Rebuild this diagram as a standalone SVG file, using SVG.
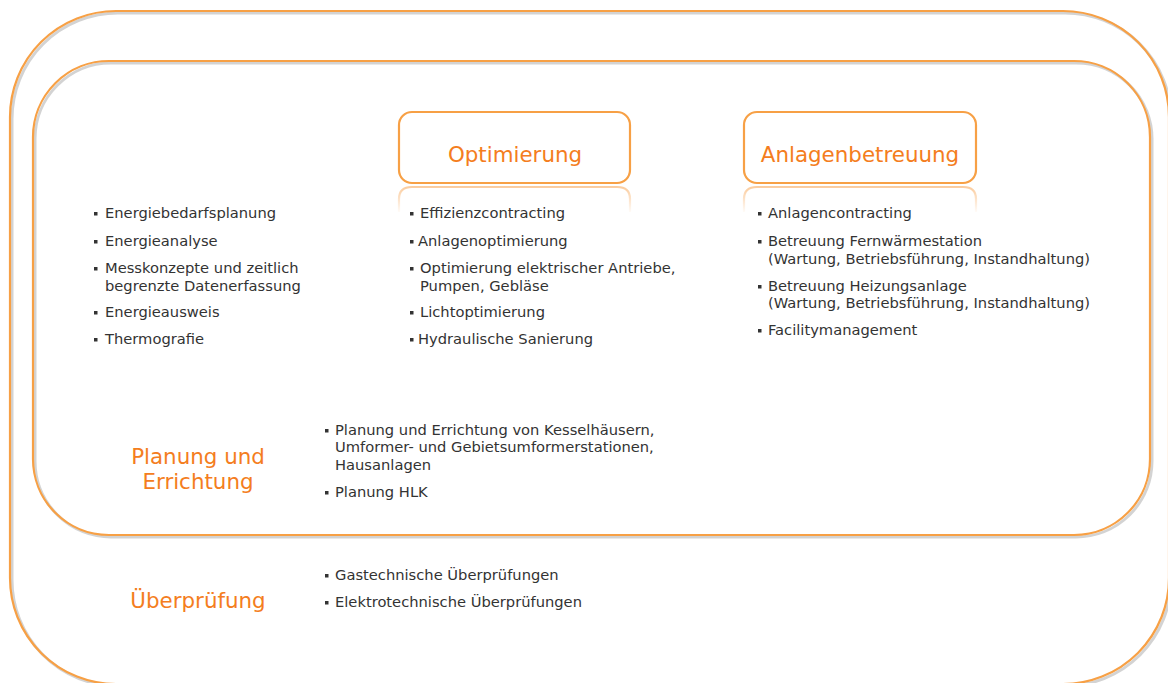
<svg xmlns="http://www.w3.org/2000/svg" width="1168" height="683" viewBox="0 0 1168 683">
<defs>
<linearGradient id="refl" gradientUnits="userSpaceOnUse" x1="0" y1="186" x2="0" y2="214">
<stop offset="0" stop-color="#F7A04A" stop-opacity="0.55"/>
<stop offset="1" stop-color="#F7A04A" stop-opacity="0"/>
</linearGradient>
</defs>
<style>
.shadow{fill:none;stroke:#c8c8c8;stroke-width:3;opacity:0.8}
.frame{fill:none;stroke:#F7A045;stroke-width:2.2}
.box{fill:#fff;stroke:#F7A045;stroke-width:2.2}
.refl{fill:none;stroke:url(#refl);stroke-width:2.2}
.title{font-family:"DejaVu Sans",Verdana,sans-serif;font-size:21.4px;fill:#F47D20}
.item{font-family:"DejaVu Sans",Verdana,sans-serif;font-size:14.7px;fill:#333}
.bul{fill:#333}
</style>
<rect width="1168" height="683" fill="#fff"/>

<g id="outer-frame">
<rect class="shadow" x="12" y="13" width="1159" height="673" rx="106"/>
<rect class="frame" x="10" y="11" width="1159" height="673" rx="106"/>
</g>
<g id="inner-frame">
<rect class="shadow" x="35" y="63" width="1117" height="474" rx="76"/>
<rect class="frame" x="33" y="61" width="1117" height="474" rx="76"/>
</g>

<g id="energieberatung">
<rect class="bul" x="94" y="212" width="3.5" height="3.5"/>
<text class="item" x="105" y="218">Energiebedarfsplanung</text>
<rect class="bul" x="94" y="240" width="3.5" height="3.5"/>
<text class="item" x="105" y="246">Energieanalyse</text>
<rect class="bul" x="94" y="267" width="3.5" height="3.5"/>
<text class="item" x="105" y="273">Messkonzepte und zeitlich</text>
<text class="item" x="105" y="291">begrenzte Datenerfassung</text>
<rect class="bul" x="94" y="311" width="3.5" height="3.5"/>
<text class="item" x="105" y="317">Energieausweis</text>
<rect class="bul" x="94" y="338" width="3.5" height="3.5"/>
<text class="item" x="105" y="344">Thermografie</text>
</g>

<g id="optimierung">
<rect class="box" x="399" y="112" width="231" height="71" rx="13"/>
<path class="refl" d="M399,212 V199 Q399,187 412,187 H617 Q630,187 630,199 V212"/>
<text class="title" x="515" y="162" text-anchor="middle">Optimierung</text>
<rect class="bul" x="410" y="212" width="3.5" height="3.5"/>
<text class="item" x="420" y="218">Effizienzcontracting</text>
<rect class="bul" x="410" y="240" width="3.5" height="3.5"/>
<text class="item" x="418" y="246">Anlagenoptimierung</text>
<rect class="bul" x="410" y="267" width="3.5" height="3.5"/>
<text class="item" x="420" y="273">Optimierung elektrischer Antriebe,</text>
<text class="item" x="420" y="291">Pumpen, Gebläse</text>
<rect class="bul" x="410" y="311" width="3.5" height="3.5"/>
<text class="item" x="420" y="317">Lichtoptimierung</text>
<rect class="bul" x="410" y="338" width="3.5" height="3.5"/>
<text class="item" x="418" y="344">Hydraulische Sanierung</text>
</g>

<g id="anlagenbetreuung">
<rect class="box" x="744" y="112" width="232" height="71" rx="13"/>
<path class="refl" d="M744,212 V199 Q744,187 757,187 H963 Q976,187 976,199 V212"/>
<text class="title" x="860" y="162" text-anchor="middle">Anlagenbetreuung</text>
<rect class="bul" x="758" y="212" width="3.5" height="3.5"/>
<text class="item" x="768" y="218">Anlagencontracting</text>
<rect class="bul" x="758" y="240" width="3.5" height="3.5"/>
<text class="item" x="768" y="246">Betreuung Fernwärmestation</text>
<text class="item" x="768" y="264">(Wartung, Betriebsführung, Instandhaltung)</text>
<rect class="bul" x="758" y="285" width="3.5" height="3.5"/>
<text class="item" x="768" y="291">Betreuung Heizungsanlage</text>
<text class="item" x="768" y="308">(Wartung, Betriebsführung, Instandhaltung)</text>
<rect class="bul" x="758" y="329" width="3.5" height="3.5"/>
<text class="item" x="768" y="335">Facilitymanagement</text>
</g>

<g id="planung">
<text class="title" x="198" y="464" text-anchor="middle">Planung und</text>
<text class="title" x="198" y="489" text-anchor="middle">Errichtung</text>
<rect class="bul" x="325" y="429" width="3.5" height="3.5"/>
<text class="item" x="335" y="435">Planung und Errichtung von Kesselhäusern,</text>
<text class="item" x="335" y="452">Umformer- und Gebietsumformerstationen,</text>
<text class="item" x="335" y="470">Hausanlagen</text>
<rect class="bul" x="325" y="491" width="3.5" height="3.5"/>
<text class="item" x="335" y="497">Planung HLK</text>
</g>

<g id="ueberpruefung">
<text class="title" x="198" y="608" text-anchor="middle">Überprüfung</text>
<rect class="bul" x="325" y="574" width="3.5" height="3.5"/>
<text class="item" x="335" y="580">Gastechnische Überprüfungen</text>
<rect class="bul" x="325" y="601" width="3.5" height="3.5"/>
<text class="item" x="335" y="607">Elektrotechnische Überprüfungen</text>
</g>

<g id="connectors"/>
</svg>
